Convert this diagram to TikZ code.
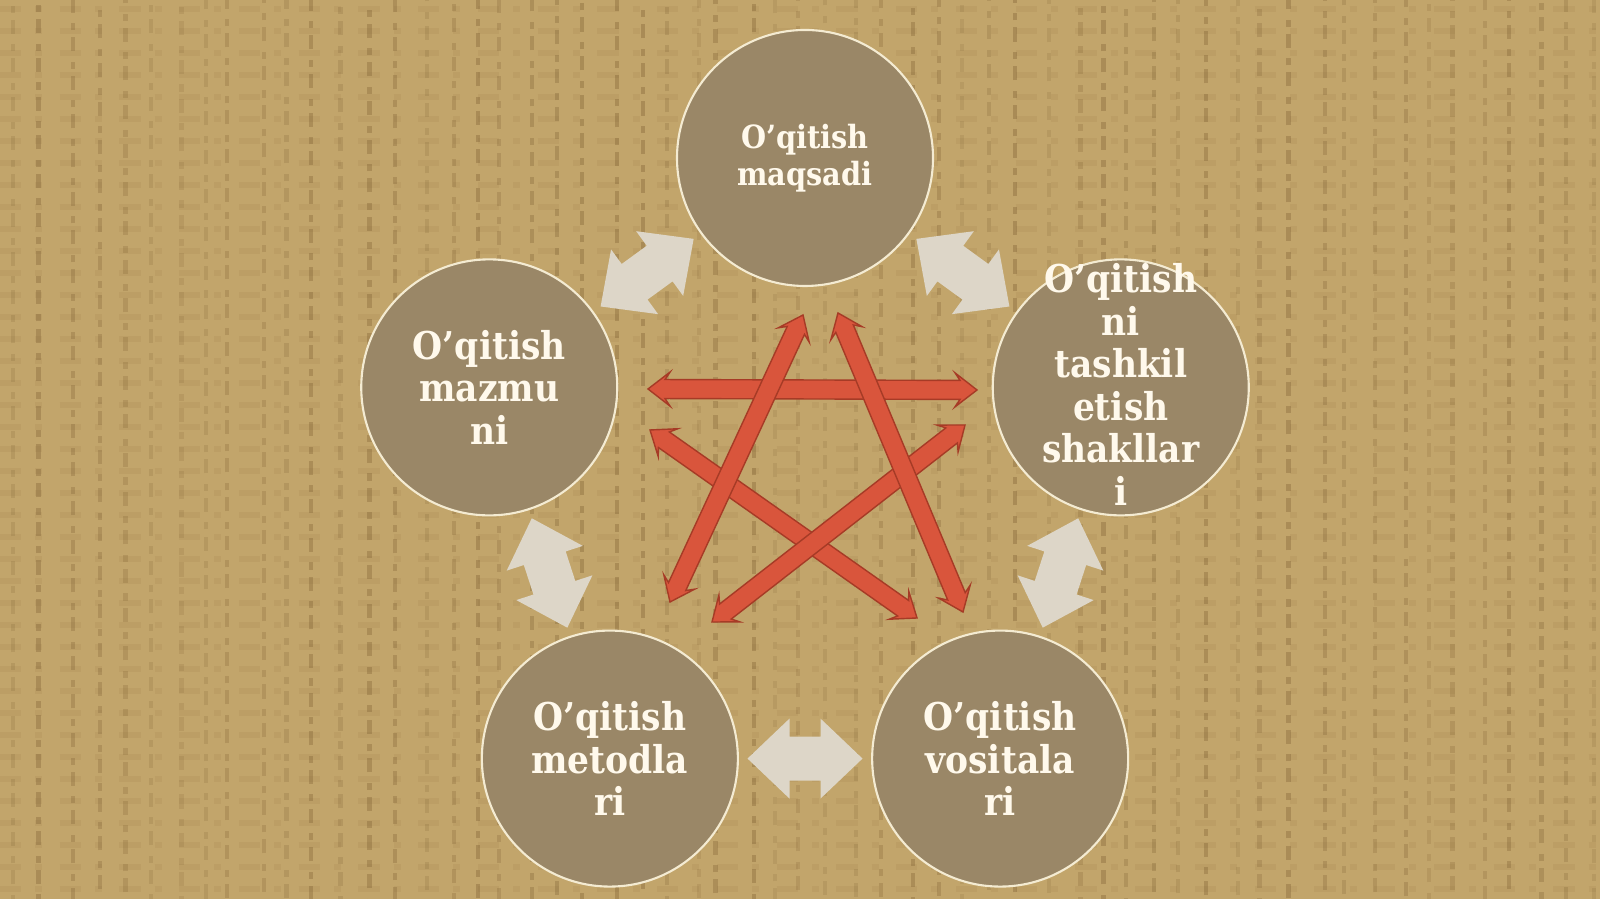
\documentclass[tikz,border=0pt]{standalone}
\usepackage{fontspec}
\setmainfont{DejaVu Serif Condensed}
\usetikzlibrary{calc,positioning}

\definecolor{burlap}{HTML}{C2A56B}
\definecolor{burlapdark}{HTML}{6E4E24}
\definecolor{discfill}{HTML}{9A8767}
\definecolor{discline}{HTML}{F4EBD2}
\definecolor{disctext}{HTML}{FFF9EC}
\definecolor{linkgray}{HTML}{DDD6C8}
\definecolor{starred}{HTML}{D9553C}
\definecolor{starline}{HTML}{A63B26}

\tikzset{
	disc/.style={circle, draw=discline, line width=0.6pt, fill=discfill,
		minimum size=2.56cm, inner sep=0pt},
	disctxt/.style={align=center, text=disctext, inner sep=0pt},
	bigtxt/.style={font=\bfseries\fontsize{10.9}{12.1}\selectfont},
	smalltxt/.style={font=\bfseries\fontsize{9.1}{10.5}\selectfont},
	righttxt/.style={bigtxt, yshift=0.03cm},
	linkarrow/.style={fill=linkgray},
	stararrow/.style={fill=starred, draw=starline, line width=0.4pt},
}

% double block arrow: [style]{tip a}{tip b}{shaft half}{head half}{head length}{barb}
\newcommand{\blockarrow}[7][]{%
	\pgfmathsetlengthmacro\jd{#6-#7}%
	\coordinate (ha) at ($(#2)!#6!(#3)$);
	\coordinate (ja) at ($(#2)!\jd!(#3)$);
	\coordinate (hb) at ($(#3)!#6!(#2)$);
	\coordinate (jb) at ($(#3)!\jd!(#2)$);
	\path[#1] (#2)
		-- ($(ha)!#5!90:(#3)$) -- ($(ja)!#4!90:(#3)$)
		-- ($(jb)!#4!-90:(#2)$) -- ($(hb)!#5!-90:(#2)$)
		-- (#3)
		-- ($(hb)!#5!90:(#2)$) -- ($(jb)!#4!90:(#2)$)
		-- ($(ja)!#4!-90:(#3)$) -- ($(ha)!#5!-90:(#3)$)
		-- cycle;
}

\begin{document}
\begin{tikzpicture}
\fill[burlap] (0,0) rectangle (16,8.99);
\useasboundingbox (0,0) rectangle (16,8.99);

% burlap weave
\begin{scope}
\clip (0,0) rectangle (16,8.99);
\pgfmathsetseed{7}
\foreach \i in {0,...,58}{
	\pgfmathsetmacro\xx{0.14+\i*0.272+0.06*rand}
	\pgfmathsetmacro\ph{6*rnd}
	\pgfmathsetmacro\op{0.12+0.18*rnd}
	\draw[burlapdark, opacity=\op, line width=1.2pt,
		dash pattern=on 2pt off 3pt on 4pt off 2pt, dash phase=\ph pt]
		(\xx,0) -- (\xx,8.99);
}
\foreach \j in {0,...,40}{
	\pgfmathsetmacro\yy{0.1+\j*0.22}
	\draw[burlapdark, opacity=0.07, line width=1.5pt,
		dash pattern=on 6pt off 4pt on 2pt off 5pt]
		(0,\yy) -- (16,\yy);
}
\end{scope}

\coordinate (ctr) at (8.05,4.09);

\foreach[count=\i] \a/\txt/\sty in {%
	90/{O’qitish\\maqsadi}/smalltxt%
	,162/{O’qitish\\mazmu\\ni}/bigtxt%
	,234/{O’qitish\\metodla\\ri}/bigtxt%
	,306/{O’qitish\\vositala\\ri}/bigtxt%
	,18/{O’qitish\\ni\\tashkil\\etish\\shakllar\\i}/righttxt%
}{
	\node[disc] (c\i) at ($(ctr)+(\a:3.32)$) {};
	\node[disctxt,\sty] (t\i) at (c\i) {\txt};
}

% arrows between neighbours
\foreach \u \v in {1/2,2/3,3/4,4/5,5/1}{
	\coordinate (m\u) at ($(c\u)!0.5!(c\v)$);
	\coordinate (s\u) at ($(m\u)!0.575cm!(c\u)$);
	\coordinate (e\u) at ($(m\u)!0.575cm!(c\v)$);
	\blockarrow[linkarrow]{s\u}{e\u}{0.22cm}{0.40cm}{0.42cm}{0cm}
}

% star
\coordinate (t1) at (8.03,5.84);
\coordinate (t2) at (8.38,5.86);
\coordinate (l1) at (6.48,5.10);
\coordinate (l2) at (6.50,4.69);
\coordinate (r1) at (9.77,5.09);
\coordinate (r2) at (9.65,4.74);
\coordinate (bl1) at (6.70,2.97);
\coordinate (bl2) at (7.12,2.77);
\coordinate (br1) at (9.17,2.81);
\coordinate (br2) at (9.63,2.87);

\foreach \u \v in {l1/r1,l2/br1,r2/bl2,t1/bl1,t2/br2}{
	\blockarrow[stararrow]{\u}{\v}{0.095cm}{0.17cm}{0.22cm}{0.05cm}
}

\end{tikzpicture}
\end{document}
